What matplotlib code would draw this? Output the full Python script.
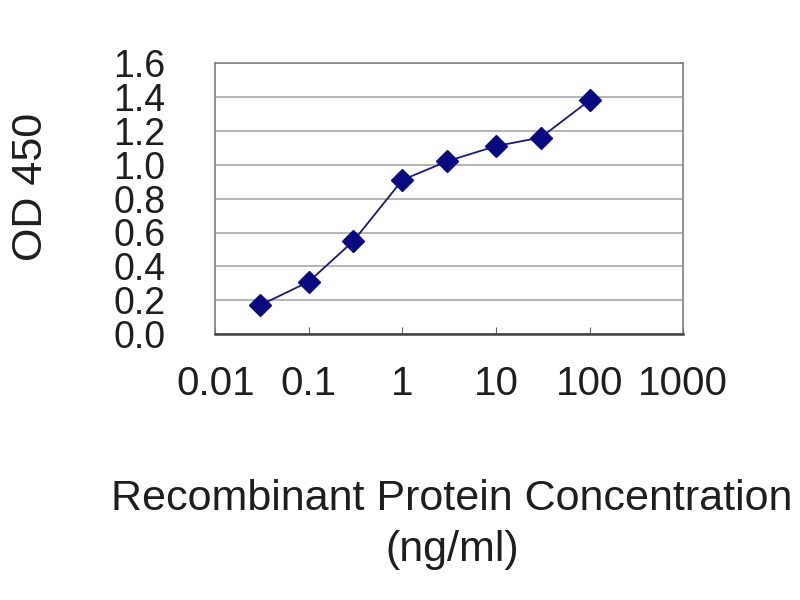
import matplotlib
matplotlib.use("Agg")
import matplotlib.pyplot as plt

conc = [0.03, 0.1, 0.3, 1, 3, 10, 30, 100]
od450 = [0.17, 0.31, 0.55, 0.91, 1.02, 1.11, 1.16, 1.38]
x_ticks = [0.01, 0.1, 1, 10, 100, 1000]
x_labels = ["0.01", "0.1", "1", "10", "100", "1000"]
y_ticks = [0.0, 0.2, 0.4, 0.6, 0.8, 1.0, 1.2, 1.4, 1.6]

plt.rcParams["font.family"] = ["Liberation Sans", "DejaVu Sans"]
txt = "#1e1e1e"

fig = plt.figure(figsize=(8, 6), dpi=100)
ax = fig.add_axes([0.269, 0.443, 0.585, 0.452])

ax.plot(conc, od450, color="#1a1a7a", lw=1.3, marker="D", ms=11,
        mfc="#0a0a80", mec="#0a0a80", zorder=3)

ax.set_xscale("log")
ax.set_xlim(0.01, 1000)
ax.set_ylim(0, 1.6)
ax.set_xticks(x_ticks)
ax.set_xticklabels(x_labels, fontsize=29, color=txt)
ax.minorticks_off()
ax.set_yticks(y_ticks)
ax.set_yticklabels([f"{v:.1f}" for v in y_ticks], fontsize=27, color=txt)

ax.grid(axis="y", color="#a8a8a8", lw=1.2)
ax.set_axisbelow(True)
for s in ax.spines.values():
    s.set_color("#808080")
    s.set_linewidth(1.2)
ax.spines["bottom"].set_color("#404040")
ax.spines["bottom"].set_linewidth(1.8)

ax.tick_params(axis="x", direction="in", length=5, color="#606060", pad=22)
ax.tick_params(axis="y", direction="out", length=0, pad=36)

fig.text(31 / 800, 1 - 187 / 600, "OD 450", rotation=90, ha="center",
         va="center", fontsize=31, color=txt)
fig.text(452 / 800, 1 - 499 / 600, "Recombinant Protein Concentration",
         ha="center", va="center", fontsize=31, color=txt)
fig.text(452 / 800, 1 - 550 / 600, "(ng/ml)",
         ha="center", va="center", fontsize=31, color=txt)

fig.savefig("out.png", dpi=100, facecolor="white")
